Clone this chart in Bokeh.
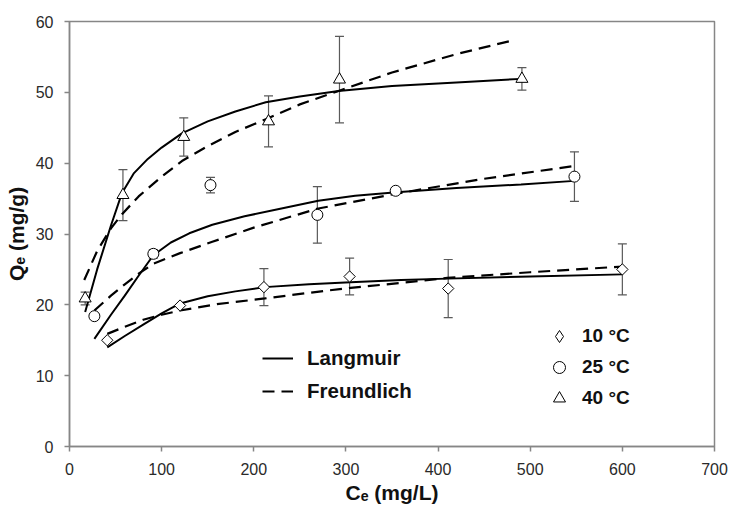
import math
from bokeh.plotting import figure
from bokeh.models import (ColumnDataSource, Whisker, TeeHead, Legend, LegendItem,
                          Range1d, FixedTicker)
from bokeh.embed import file_html
from bokeh.resources import INLINE

# ---------------- data ----------------
# measured points: Ce (mg/L), Qe (mg/g), error (+/-)
x10 = [41, 120, 211, 304, 411, 600]
y10 = [15.0, 19.9, 22.5, 24.0, 22.3, 25.0]
e10 = [0.0, 0.0, 2.6, 2.6, 4.1, 3.6]

x25 = [27, 91, 153, 269, 354, 548]
y25 = [18.4, 27.2, 36.9, 32.7, 36.1, 38.1]
e25 = [0.25, 0.6, 1.1, 4.0, 0.35, 3.5]

x40 = [17, 58, 124, 216, 293, 491]
y40 = [20.9, 35.5, 43.7, 45.9, 51.8, 51.9]
e40 = [0.9, 3.6, 2.7, 3.6, 6.1, 1.6]

# fitted curves
lang40_x = [17, 30, 45, 57, 70, 85, 100, 122, 150, 180, 213, 250, 292, 350, 420, 490]
lang40_y = [19.0, 25.0, 31.2, 35.8, 38.6, 40.6, 42.2, 44.2, 45.9, 47.3, 48.6, 49.4, 50.2, 50.9, 51.4, 51.9]
freu40_x = [16, 30, 45, 57, 75, 100, 122, 150, 180, 213, 250, 292, 350, 420, 483]
freu40_y = [23.5, 27.6, 30.8, 32.8, 35.3, 38.1, 40.3, 42.4, 44.4, 46.2, 48.3, 50.2, 52.8, 55.4, 57.4]

lang25_x = [27, 45, 60, 75, 91, 110, 130, 155, 190, 230, 270, 310, 355, 420, 490, 548]
lang25_y = [15.2, 18.6, 21.3, 24.1, 27.0, 28.8, 30.1, 31.3, 32.5, 33.6, 34.7, 35.4, 35.9, 36.5, 37.0, 37.5]
freu25_x = [27, 45, 60, 75, 91, 120, 155, 200, 270, 355, 450, 548]
freu25_y = [19.2, 21.3, 22.9, 24.4, 25.8, 27.3, 28.9, 30.9, 33.6, 35.7, 37.8, 39.6]

lang10_x = [41, 60, 80, 100, 120, 150, 180, 212, 260, 305, 360, 410, 500, 600]
lang10_y = [14.0, 15.6, 17.2, 18.8, 20.2, 21.2, 21.9, 22.5, 22.9, 23.2, 23.5, 23.7, 24.0, 24.3]
freu10_x = [41, 60, 80, 100, 120, 160, 212, 260, 305, 360, 410, 500, 600]
freu10_y = [15.9, 16.9, 17.9, 18.6, 19.2, 20.1, 20.9, 21.7, 22.4, 23.1, 23.8, 24.6, 25.4]

x_ticks = [0, 100, 200, 300, 400, 500, 600, 700]
y_ticks = [0, 10, 20, 30, 40, 50, 60]

FONT = "Liberation Sans"
AXIS_GREY = "#868686"
ERR_GREY = "#5a5a5a"

p = figure(width=731, height=506, output_backend="svg", toolbar_location=None,
           x_range=Range1d(0, 700), y_range=Range1d(0, 60),
           min_border_left=69, min_border_right=17, min_border_top=21, min_border_bottom=60)
p.grid.visible = False
p.outline_line_color = AXIS_GREY
p.outline_line_width = 1.5
p.background_fill_color = "white"

for ax in (p.xaxis[0], p.yaxis[0]):
    ax.axis_line_color = AXIS_GREY
    ax.axis_line_width = 1.5
    ax.major_tick_line_color = AXIS_GREY
    ax.major_tick_line_width = 1.5
    ax.major_tick_in = 0
    ax.major_tick_out = 5
    ax.minor_tick_line_color = None
    ax.major_label_text_font = FONT
    ax.major_label_text_font_size = "16px"
    ax.major_label_text_color = "#2a2a2a"
    ax.axis_label_text_font = FONT
    ax.axis_label_text_font_style = "bold"
    ax.axis_label_text_font_size = "21px"
    ax.axis_label_text_color = "#111111"

p.xaxis[0].ticker = FixedTicker(ticks=x_ticks)
p.yaxis[0].ticker = FixedTicker(ticks=y_ticks)
p.xaxis[0].axis_label = "Cₑ (mg/L)"
p.yaxis[0].axis_label = "Qₑ (mg/g)"
p.xaxis[0].major_label_standoff = 11
p.xaxis[0].axis_label_standoff = 3
p.yaxis[0].major_label_standoff = 11
p.yaxis[0].axis_label_standoff = 5

# fitted curves
DASH = "12 7"
lang_r = None
freu_r = None
for lx, ly, fx, fy in ((lang10_x, lang10_y, freu10_x, freu10_y),
                       (lang25_x, lang25_y, freu25_x, freu25_y),
                       (lang40_x, lang40_y, freu40_x, freu40_y)):
    lang_r = p.line(lx, ly, line_color="black", line_width=2)
    freu_r = p.line(fx, fy, line_color="black", line_width=2.2, line_dash=DASH)

# measured points
r10 = p.scatter(x10, y10, marker="square", size=8, angle=math.pi / 4,
                fill_color="white", line_color="black", line_width=1)
r25 = p.scatter(x25, y25, marker="circle", size=11,
                fill_color="white", line_color="black", line_width=1)
r40 = p.scatter(x40, y40, marker="triangle", size=12,
                fill_color="white", line_color="black", line_width=1)

# error bars
for xs, ys, es in ((x10, y10, e10), (x25, y25, e25), (x40, y40, e40)):
    bx = [x for x, e in zip(xs, es) if e > 0]
    lo = [y - e for y, e in zip(ys, es) if e > 0]
    up = [y + e for y, e in zip(ys, es) if e > 0]
    src = ColumnDataSource(dict(base=bx, lower=lo, upper=up))
    w = Whisker(source=src, base="base", lower="lower", upper="upper", dimension="height",
                line_color=ERR_GREY, line_width=1.2,
                upper_head=TeeHead(size=9, line_color=ERR_GREY, line_width=1.2),
                lower_head=TeeHead(size=9, line_color=ERR_GREY, line_width=1.2))
    p.add_layout(w)

# legend-only diamond (Bokeh legends ignore marker angle); hidden on the plot
leg10 = p.scatter(x10, y10, marker="diamond", size=12, visible=False,
                  fill_color="white", line_color="black", line_width=1)

leg_lines = Legend(items=[LegendItem(label="Langmuir", renderers=[lang_r]),
                          LegendItem(label="Freundlich", renderers=[freu_r])],
                   location=(193, 43), glyph_width=31, glyph_height=22, label_height=22,
                   spacing=9, label_standoff=14, padding=0, margin=0,
                   border_line_alpha=0, background_fill_alpha=0,
                   label_text_font=FONT, label_text_font_style="bold",
                   label_text_font_size="20.5px", label_text_color="#111111")
leg_marks = Legend(items=[LegendItem(label="10 °C", renderers=[leg10]),
                          LegendItem(label="25 °C", renderers=[r25]),
                          LegendItem(label="40 °C", renderers=[r40])],
                   location=(475, 33), glyph_width=30, glyph_height=30, label_height=30,
                   spacing=1, label_standoff=8, padding=0, margin=0,
                   border_line_alpha=0, background_fill_alpha=0,
                   inactive_fill_alpha=0,
                   label_text_font=FONT, label_text_font_style="bold",
                   label_text_font_size="19px", label_text_color="#111111")
p.add_layout(leg_lines, "center")
p.add_layout(leg_marks, "center")

open("out.html", "w").write(file_html(p, INLINE))
